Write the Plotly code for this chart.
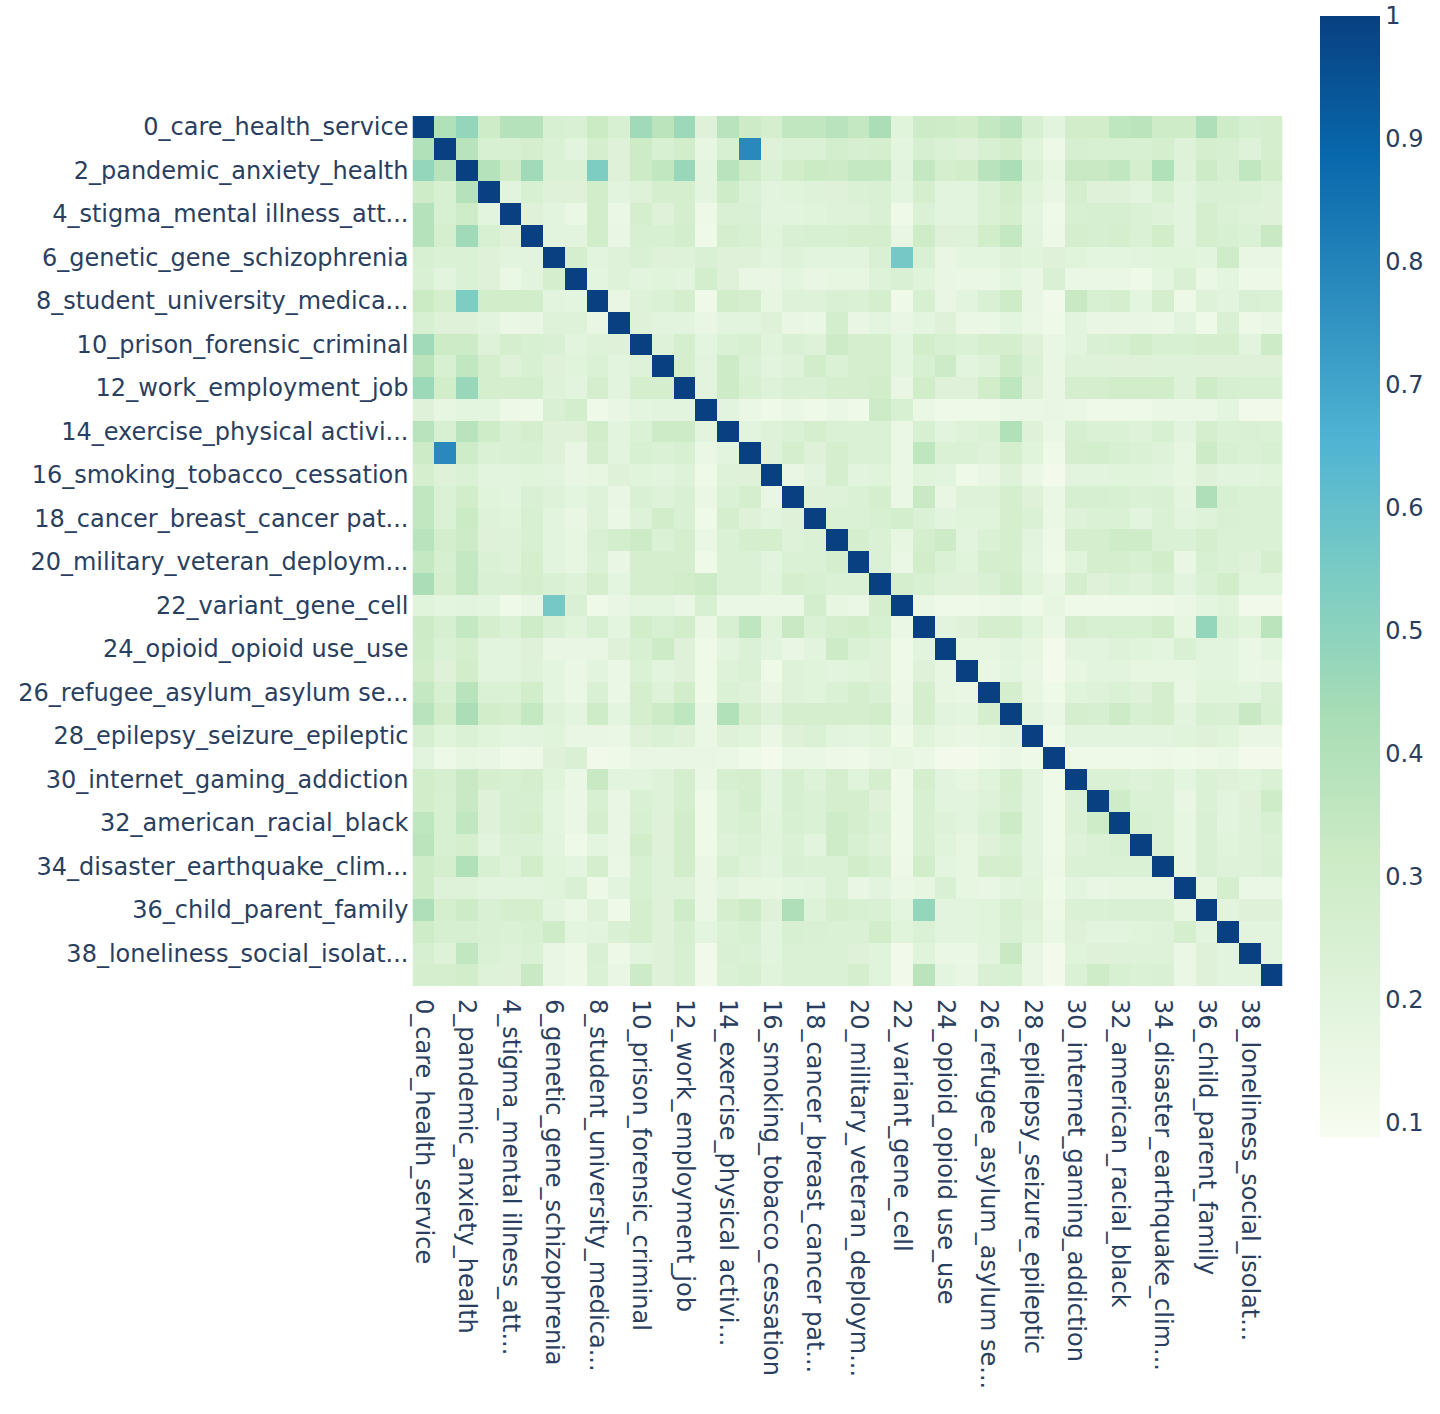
import numpy as np
import plotly.graph_objs as go

# topic labels (only the even ones are shown on the axes)
even_labels = ['0_care_health_service', '2_pandemic_anxiety_health',
               '4_stigma_mental illness_att...', '6_genetic_gene_schizophrenia',
               '8_student_university_medica...', '10_prison_forensic_criminal',
               '12_work_employment_job', '14_exercise_physical activi...',
               '16_smoking_tobacco_cessation', '18_cancer_breast_cancer pat...',
               '20_military_veteran_deploym...', '22_variant_gene_cell',
               '24_opioid_opioid use_use', '26_refugee_asylum_asylum se...',
               '28_epilepsy_seizure_epileptic', '30_internet_gaming_addiction',
               '32_american_racial_black', '34_disaster_earthquake_clim...',
               '36_child_parent_family', '38_loneliness_social_isolat...']
odd_labels = ['1_topic', '3_topic', '5_topic', '7_topic', '9_topic',
              '11_topic', '13_topic', '15_topic', '17_topic', '19_topic',
              '21_topic', '23_topic', '25_topic', '27_topic', '29_topic',
              '31_topic', '33_topic', '35_topic', '37_topic', '39_topic']

# upper triangle of the similarity matrix, row i holds columns i+1..39
row_0 = [0.40, 0.48, 0.30, 0.39, 0.39, 0.25, 0.24, 0.32, 0.25, 0.45, 0.37, 0.46, 0.21, 0.38, 0.31, 0.27, 0.35, 0.35, 0.38,
         0.34, 0.42, 0.20, 0.31, 0.30, 0.29, 0.34, 0.38, 0.26, 0.19, 0.29, 0.29, 0.36, 0.37, 0.30, 0.30, 0.41, 0.30, 0.26, 0.27]
row_1 = [0.38, 0.25, 0.25, 0.27, 0.23, 0.19, 0.27, 0.21, 0.31, 0.25, 0.29, 0.17, 0.25, 0.78, 0.21, 0.23, 0.23, 0.28,
         0.26, 0.27, 0.18, 0.26, 0.23, 0.21, 0.25, 0.29, 0.20, 0.14, 0.26, 0.25, 0.25, 0.25, 0.27, 0.22, 0.27, 0.26, 0.22, 0.27]
row_2 = [0.39, 0.30, 0.45, 0.23, 0.23, 0.54, 0.21, 0.31, 0.35, 0.47, 0.18, 0.38, 0.30, 0.23, 0.29, 0.32, 0.31,
         0.34, 0.34, 0.19, 0.34, 0.27, 0.29, 0.38, 0.42, 0.23, 0.17, 0.33, 0.33, 0.35, 0.27, 0.40, 0.22, 0.31, 0.26, 0.35, 0.29]
row_3 = [0.19, 0.25, 0.21, 0.21, 0.29, 0.19, 0.22, 0.27, 0.27, 0.18, 0.30, 0.23, 0.19, 0.20, 0.22, 0.21,
         0.23, 0.24, 0.18, 0.27, 0.19, 0.19, 0.23, 0.29, 0.20, 0.16, 0.27, 0.21, 0.21, 0.19, 0.25, 0.19, 0.24, 0.24, 0.23, 0.22]
row_4 = [0.21, 0.19, 0.15, 0.29, 0.15, 0.27, 0.21, 0.27, 0.14, 0.24, 0.24, 0.19, 0.19, 0.20, 0.22,
         0.22, 0.24, 0.13, 0.23, 0.19, 0.19, 0.23, 0.27, 0.18, 0.13, 0.25, 0.26, 0.26, 0.23, 0.22, 0.19, 0.27, 0.23, 0.22, 0.21]
row_5 = [0.19, 0.19, 0.29, 0.16, 0.25, 0.25, 0.28, 0.13, 0.27, 0.25, 0.20, 0.24, 0.25, 0.25,
         0.27, 0.27, 0.16, 0.30, 0.21, 0.22, 0.29, 0.34, 0.19, 0.14, 0.27, 0.26, 0.27, 0.23, 0.29, 0.19, 0.27, 0.25, 0.23, 0.33]
row_6 = [0.27, 0.19, 0.22, 0.24, 0.21, 0.22, 0.24, 0.21, 0.21, 0.19, 0.22, 0.19, 0.19,
         0.19, 0.24, 0.56, 0.24, 0.16, 0.18, 0.18, 0.22, 0.20, 0.21, 0.20, 0.18, 0.18, 0.19, 0.20, 0.20, 0.19, 0.30, 0.16, 0.16]
row_7 = [0.18, 0.22, 0.19, 0.20, 0.19, 0.28, 0.21, 0.16, 0.16, 0.18, 0.16, 0.17,
         0.17, 0.22, 0.24, 0.20, 0.16, 0.15, 0.15, 0.18, 0.16, 0.24, 0.15, 0.15, 0.15, 0.13, 0.18, 0.24, 0.15, 0.18, 0.14, 0.14]
row_8 = [0.16, 0.22, 0.23, 0.27, 0.13, 0.29, 0.27, 0.17, 0.22, 0.22, 0.24,
         0.23, 0.27, 0.13, 0.25, 0.16, 0.19, 0.24, 0.30, 0.16, 0.12, 0.33, 0.25, 0.27, 0.18, 0.27, 0.14, 0.22, 0.19, 0.24, 0.23]
row_9 = [0.21, 0.19, 0.19, 0.16, 0.19, 0.19, 0.21, 0.16, 0.15, 0.28,
         0.16, 0.18, 0.16, 0.18, 0.21, 0.15, 0.15, 0.18, 0.15, 0.13, 0.19, 0.16, 0.16, 0.16, 0.15, 0.19, 0.13, 0.24, 0.14, 0.16]
row_10 = [0.22, 0.27, 0.18, 0.23, 0.25, 0.20, 0.24, 0.22, 0.31,
          0.27, 0.27, 0.18, 0.29, 0.25, 0.23, 0.27, 0.27, 0.21, 0.16, 0.19, 0.24, 0.25, 0.29, 0.25, 0.25, 0.27, 0.27, 0.19, 0.31]
row_11 = [0.27, 0.19, 0.31, 0.23, 0.19, 0.22, 0.29, 0.23,
          0.27, 0.27, 0.18, 0.25, 0.31, 0.19, 0.22, 0.31, 0.23, 0.16, 0.22, 0.22, 0.21, 0.21, 0.22, 0.22, 0.21, 0.21, 0.21, 0.21]
row_12 = [0.19, 0.31, 0.25, 0.22, 0.24, 0.24, 0.27,
          0.27, 0.29, 0.16, 0.29, 0.21, 0.21, 0.29, 0.36, 0.21, 0.16, 0.27, 0.27, 0.29, 0.29, 0.29, 0.22, 0.30, 0.26, 0.25, 0.25]
row_13 = [0.19, 0.15, 0.13, 0.15, 0.13, 0.15,
          0.13, 0.31, 0.25, 0.15, 0.13, 0.13, 0.13, 0.15, 0.15, 0.16, 0.15, 0.13, 0.13, 0.13, 0.15, 0.15, 0.15, 0.18, 0.12, 0.12]
row_14 = [0.19, 0.22, 0.23, 0.27, 0.23,
          0.23, 0.23, 0.15, 0.25, 0.19, 0.22, 0.23, 0.40, 0.21, 0.15, 0.26, 0.23, 0.23, 0.22, 0.25, 0.19, 0.27, 0.23, 0.24, 0.23]
row_15 = [0.21, 0.27, 0.21, 0.27,
          0.23, 0.23, 0.15, 0.36, 0.23, 0.23, 0.22, 0.27, 0.20, 0.13, 0.27, 0.28, 0.25, 0.23, 0.22, 0.17, 0.31, 0.25, 0.23, 0.25]
row_16 = [0.16, 0.19, 0.27,
          0.19, 0.20, 0.15, 0.20, 0.19, 0.13, 0.16, 0.22, 0.15, 0.11, 0.19, 0.19, 0.20, 0.20, 0.19, 0.17, 0.21, 0.19, 0.19, 0.20]
row_17 = [0.21, 0.22,
          0.23, 0.27, 0.15, 0.33, 0.16, 0.22, 0.22, 0.27, 0.21, 0.15, 0.26, 0.26, 0.25, 0.23, 0.24, 0.18, 0.41, 0.25, 0.23, 0.23]
row_18 = [0.23,
          0.23, 0.25, 0.28, 0.23, 0.19, 0.20, 0.20, 0.27, 0.23, 0.15, 0.22, 0.23, 0.23, 0.19, 0.23, 0.19, 0.22, 0.24, 0.23, 0.23]
row_19 = [0.27, 0.23, 0.17, 0.27, 0.31, 0.19, 0.23, 0.27, 0.19, 0.14, 0.27, 0.27, 0.30, 0.30, 0.23, 0.23, 0.27, 0.23, 0.23, 0.23]
row_20 = [0.23, 0.15, 0.29, 0.23, 0.20, 0.27, 0.27, 0.18, 0.13, 0.20, 0.27, 0.27, 0.25, 0.29, 0.16, 0.25, 0.23, 0.21, 0.27]
row_21 = [0.27, 0.25, 0.22, 0.21, 0.24, 0.29, 0.20, 0.16, 0.27, 0.21, 0.23, 0.22, 0.25, 0.19, 0.24, 0.29, 0.20, 0.20]
row_22 = [0.15, 0.13, 0.13, 0.14, 0.15, 0.13, 0.17, 0.13, 0.13, 0.13, 0.13, 0.14, 0.15, 0.18, 0.20, 0.12, 0.12]
row_23 = [0.19, 0.21, 0.27, 0.27, 0.20, 0.15, 0.27, 0.25, 0.25, 0.25, 0.29, 0.17, 0.48, 0.23, 0.20, 0.37]
row_24 = [0.17, 0.17, 0.19, 0.17, 0.11, 0.19, 0.19, 0.22, 0.20, 0.18, 0.24, 0.19, 0.19, 0.15, 0.18]
row_25 = [0.16, 0.18, 0.16, 0.11, 0.17, 0.19, 0.19, 0.17, 0.17, 0.17, 0.19, 0.19, 0.15, 0.16]
row_26 = [0.27, 0.17, 0.13, 0.20, 0.22, 0.23, 0.21, 0.27, 0.16, 0.20, 0.20, 0.19, 0.24]
row_27 = [0.19, 0.15, 0.27, 0.26, 0.31, 0.25, 0.27, 0.19, 0.25, 0.24, 0.33, 0.25]
row_28 = [0.13, 0.19, 0.19, 0.19, 0.19, 0.19, 0.20, 0.21, 0.20, 0.16, 0.16]
row_29 = [0.13, 0.13, 0.13, 0.13, 0.14, 0.13, 0.14, 0.15, 0.11, 0.11]
row_30 = [0.23, 0.23, 0.22, 0.23, 0.18, 0.23, 0.21, 0.20, 0.23]
row_31 = [0.30, 0.23, 0.23, 0.16, 0.23, 0.19, 0.21, 0.30]
row_32 = [0.25, 0.23, 0.17, 0.24, 0.19, 0.22, 0.25]
row_33 = [0.23, 0.17, 0.24, 0.20, 0.22, 0.23]
row_34 = [0.17, 0.24, 0.22, 0.22, 0.24]
row_35 = [0.17, 0.27, 0.15, 0.15]
row_36 = [0.19, 0.21, 0.21]
row_37 = [0.19, 0.19]
row_38 = [0.19]

upper_rows = [row_0, row_1, row_2, row_3, row_4, row_5, row_6, row_7, row_8, row_9,
              row_10, row_11, row_12, row_13, row_14, row_15, row_16, row_17, row_18, row_19,
              row_20, row_21, row_22, row_23, row_24, row_25, row_26, row_27, row_28, row_29,
              row_30, row_31, row_32, row_33, row_34, row_35, row_36, row_37, row_38]

labels = [None] * 40
labels[0::2] = even_labels
labels[1::2] = odd_labels

n = len(labels)
sim = np.eye(n)
for i, vals in enumerate(upper_rows):
    sim[i, i + 1:] = vals
    sim[i + 1:, i] = vals

trace = go.Heatmap(z=sim, x=labels, y=labels, colorscale='GnBu',
                   zmin=0.088, zmax=1,
                   hovertemplate='%{y}<br>%{x}<br>%{z:.2f}<extra></extra>',
                   colorbar=dict(thickness=60, lenmode='pixels', len=1121,
                                 y=1 + 100 / 870, yanchor='top', ypad=0,
                                 x=1.02, xanchor='left', xpad=20,
                                 outlinewidth=0, ticks='', dtick=0.1,
                                 ticklabeloverflow='allow',
                                 tickfont=dict(size=24)))

layout = go.Layout(width=1440, height=1414,
                   font=dict(family='Verdana, DejaVu Sans', size=24, color='#2a3f5f'),
                   margin=dict(l=412, r=157, t=116, b=428, autoexpand=False),
                   xaxis=dict(tickmode='array', tickvals=even_labels, ticktext=even_labels,
                              tickangle=90, showgrid=False, constrain='domain',
                              automargin=False, ticklabelstandoff=12),
                   yaxis=dict(tickmode='array', tickvals=even_labels, ticktext=even_labels,
                              autorange='reversed', showgrid=False,
                              scaleanchor='x', constrain='domain', automargin=False,
                              ticklabelstandoff=3),
                   plot_bgcolor='white', paper_bgcolor='white')

fig = go.Figure(data=[trace], layout=layout)
# drop the default page margin so the figure sits at the top-left corner
fig.write_html("out.html", config={'displayModeBar': False},
               post_script="document.body.style.margin='0';")
